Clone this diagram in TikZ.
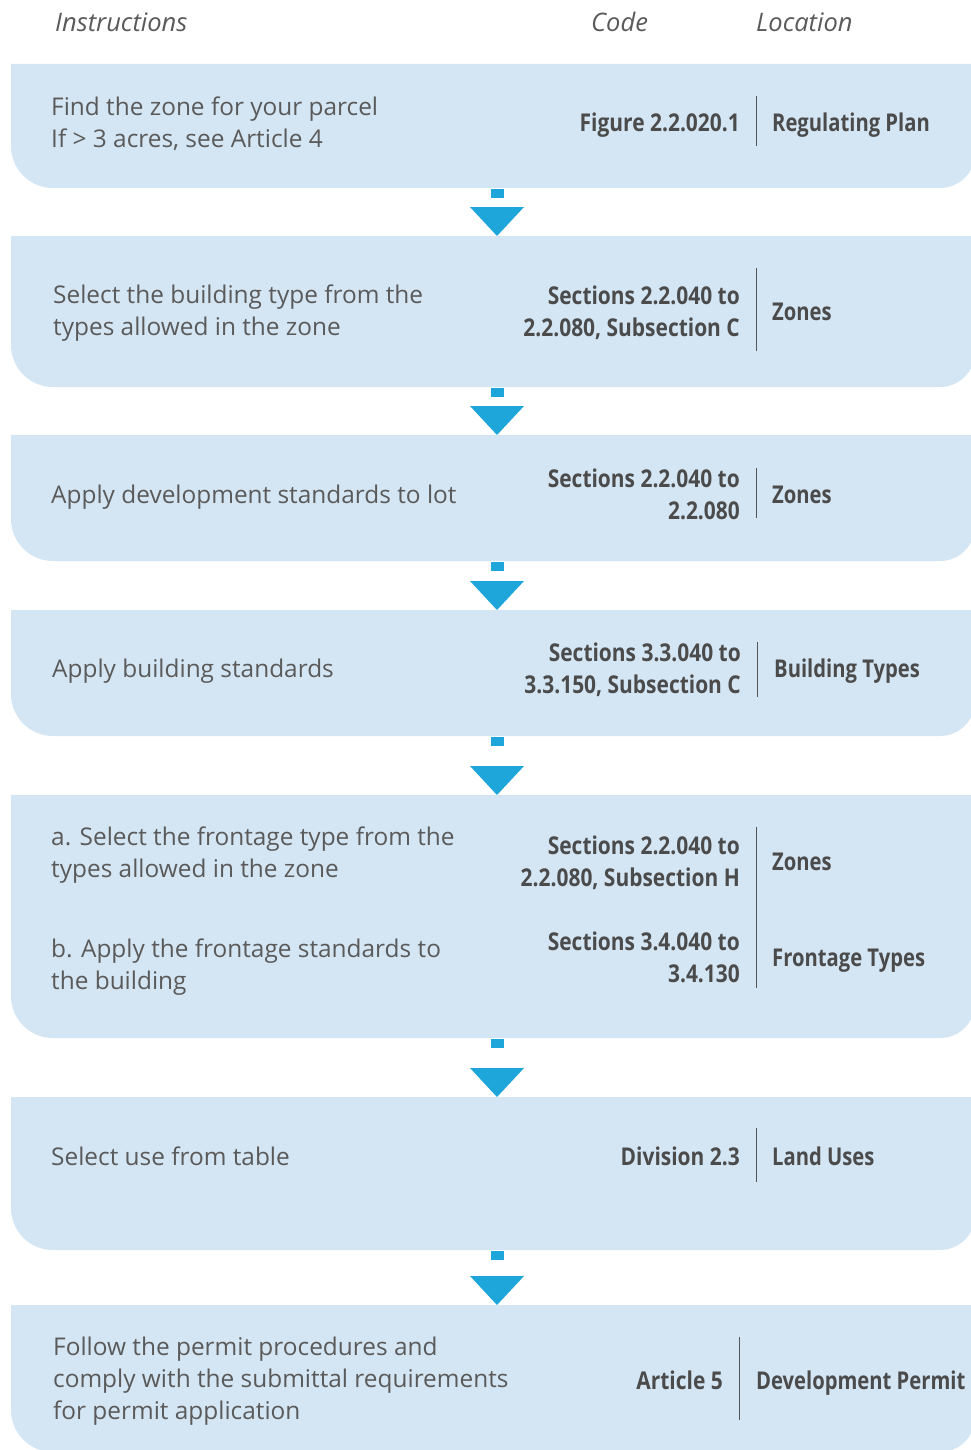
\documentclass[tikz,border=0pt]{standalone}
\usepackage{fontspec}
\setmainfont{Open Sans}
\newfontfamily\codefont{Open Sans}[FakeStretch=0.855]
\newfontfamily\locfont{Open Sans}[FakeStretch=0.825]
\usetikzlibrary{calc}
\definecolor{boxfill}{HTML}{D4E6F4}
\definecolor{arrowblue}{HTML}{1EA5DA}
\definecolor{txtgrey}{HTML}{5A5A5A}
\definecolor{codegrey}{HTML}{4B4B4B}
\definecolor{linegrey}{HTML}{555555}
\tikzset{
  hdr/.style={anchor=west,inner sep=0pt,text=txtgrey,font=\fontsize{25.5}{28}\selectfont\itshape},
  instr/.style={anchor=west,inner sep=0pt,align=left,text=txtgrey,font=\fontsize{24.4}{32}\selectfont},
  code/.style={anchor=east,inner sep=0pt,align=right,text=codegrey,font=\codefont\bfseries\fontsize{24.5}{32}\selectfont},
  loc/.style={anchor=west,inner sep=0pt,align=left,text=codegrey,font=\locfont\bfseries\fontsize{24.5}{32}\selectfont},
  oneline/.style={text height=18.5pt,text depth=0pt},
  sep/.style={draw=linegrey,line width=1pt},
  flowbox/.style={fill=boxfill},
  arr/.style={fill=arrowblue},
}
\newcommand\flowpanel[3]{%
  \fill[flowbox] (11,-#1) -- (975,-#1) -- (975,-#2+35)
    arc[start angle=0,end angle=-90,radius=35pt] -- (53,-#2)
    arc[start angle=270,end angle=180,radius=42pt] -- cycle;
  \coordinate (#3t) at (497,-#1);
  \coordinate (#3b) at (497,-#2);
}
\newcommand\flowarrow[2]{%
  \fill[arr] ($(#1)+(-6.5,-1)$) rectangle ($(#1)+(6.5,-10)$);
  \fill[arr] (#2) -- ++(-27,29) -- ++(54,0) -- cycle;
}
\begin{document}
\begin{tikzpicture}[x=1pt,y=1pt]
\useasboundingbox (0,0) rectangle (971,-1450);
\fill[white] (0,0) rectangle (971,-1450);

% header
\node[hdr] (h1) at (55,-22) {Instructions};
\node[hdr] (h2) at (591,-22) {Code};
\node[hdr] (h3) at (756,-22) {Location};

% panels
\flowpanel{64}{188}{b1}
\flowpanel{236}{387}{b2}
\flowpanel{435}{561}{b3}
\flowpanel{610}{736}{b4}
\flowpanel{795}{1038}{b5}
\flowpanel{1097}{1250}{b6}
\flowpanel{1305}{1452}{b7}

% arrows
\flowarrow{b1b}{b2t}
\flowarrow{b2b}{b3t}
\flowarrow{b3b}{b4t}
\flowarrow{b4b}{b5t}
\flowarrow{b5b}{b6t}
\flowarrow{b6b}{b7t}

% box 1
\node[instr] (i1) at (51,-124) {Find the zone for your parcel\\If > 3 acres, see Article 4};
\node[code,oneline] (c1) at (740,-122) {Figure 2.2.020.1};
\node[loc,oneline] (l1) at (772,-122) {Regulating Plan};
\draw[sep] (756,-96) -- (756,-146);

% box 2
\node[instr] (i2) at (53,-313) {Select the building type from the\\types allowed in the zone};
\node[code] (c2) at (740,-313) {Sections 2.2.040 to\\2.2.080, Subsection C};
\node[loc,oneline] (l2) at (772,-311) {Zones};
\draw[sep] (756,-268) -- (756,-351);

% box 3
\node[instr,oneline] (i3) at (51,-494) {Apply development standards to lot};
\node[code] (c3) at (740,-494) {Sections 2.2.040 to\\2.2.080};
\node[loc,oneline] (l3) at (772,-494) {Zones};
\draw[sep] (756,-468) -- (756,-518);

% box 4
\node[instr,oneline] (i4) at (52,-668) {Apply building standards};
\node[code] (c4) at (741,-670) {Sections 3.3.040 to\\3.3.150, Subsection C};
\node[loc,oneline] (l4) at (774,-668) {Building Types};
\draw[sep] (757,-642) -- (757,-697);

% box 5
\node[instr] (i5a) at (51,-855) {a. Select the frontage type from the\\types allowed in the zone};
\node[instr] (i5b) at (51,-967) {b. Apply the frontage standards to\\the building};
\node[code] (c5a) at (740,-863) {Sections 2.2.040 to\\2.2.080, Subsection H};
\node[code] (c5b) at (740,-957) {Sections 3.4.040 to\\3.4.130};
\node[loc,oneline] (l5a) at (772,-861) {Zones};
\node[loc,oneline] (l5b) at (772,-957) {Frontage Types};
\draw[sep] (756,-827) -- (756,-988);

% box 6
\node[instr,oneline] (i6) at (51,-1156) {Select use from table};
\node[code,oneline] (c6) at (740,-1156) {Division 2.3};
\node[loc,oneline] (l6) at (772,-1156) {Land Uses};
\draw[sep] (756,-1128) -- (756,-1182);

% box 7
\node[instr] (i7) at (53,-1381) {Follow the permit procedures and\\comply with the submittal requirements\\for permit application};
\node[code,oneline] (c7) at (723,-1380) {Article 5};
\node[loc,oneline] (l7) at (756,-1380) {Development Permit};
\draw[sep] (739,-1337) -- (739,-1420);
\end{tikzpicture}
\end{document}
